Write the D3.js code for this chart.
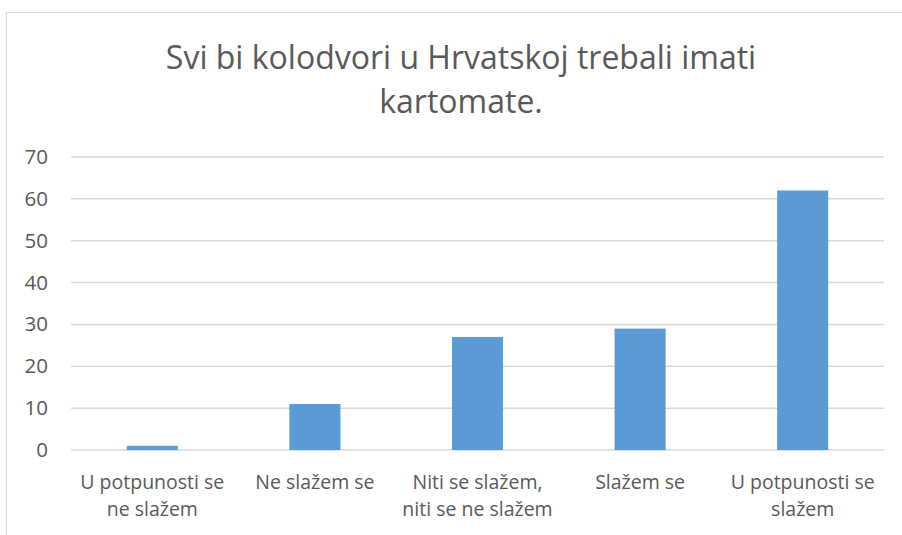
<!DOCTYPE html>
<html>
<head>
<meta charset="utf-8">
<script src="https://cdn.jsdelivr.net/npm/d3@7"></script>
<style>
  body { margin: 0; background: #fff; }
  svg { display: block; }
</style>
</head>
<body>
<svg id="chart" width="902" height="535"></svg>
<script>
// chart data
const title = ['Svi bi kolodvori u Hrvatskoj trebali imati', 'kartomate.'];
const categories = [
  'U potpunosti se\nne slažem',
  'Ne slažem se',
  'Niti se slažem,\nniti se ne slažem',
  'Slažem se',
  'U potpunosti se\nslažem'
];
const values = [1, 11, 27, 29, 62];
const yTicks = [0, 10, 20, 30, 40, 50, 60, 70];

const svg = d3.select('#chart');
const font = '"Open Sans", "DejaVu Sans", sans-serif';

// outer chart border (right/bottom are cut off in the reference)
svg.append('rect')
  .attr('x', 6.5).attr('y', 12.5)
  .attr('width', 1000).attr('height', 1000)
  .attr('fill', '#fff')
  .attr('stroke', '#d9d9d9')
  .attr('stroke-width', 1);

const margin = { top: 157, left: 71, right: 18, bottom: 85 };
const width = 902 - margin.left - margin.right;
const height = 450 - margin.top;

const x = d3.scaleBand()
  .domain(categories)
  .range([0, width])
  .paddingInner(0.686)
  .paddingOuter(0.343);

const y = d3.scaleLinear().domain([0, 70]).range([height, 0]);

const g = svg.append('g').attr('transform', `translate(${margin.left},${margin.top})`);

// gridlines
g.selectAll('line.grid')
  .data(yTicks)
  .enter()
  .append('line')
  .attr('class', 'grid')
  .attr('x1', 0).attr('x2', width)
  .attr('y1', d => y(d)).attr('y2', d => y(d))
  .attr('stroke', '#d9d9d9')
  .attr('stroke-width', 1.5);

// y axis labels
const yAxis = g.append('g')
  .call(d3.axisLeft(y).tickValues(yTicks).tickSize(0).tickPadding(23));
yAxis.select('.domain').remove();
yAxis.selectAll('text')
  .attr('fill', '#595959')
  .style('font-family', font)
  .style('font-size', '20.5px');

// bars
g.selectAll('rect.bar')
  .data(values)
  .enter()
  .append('rect')
  .attr('class', 'bar')
  .attr('x', (d, i) => x(categories[i]))
  .attr('y', d => y(d))
  .attr('width', x.bandwidth())
  .attr('height', d => y(0) - y(d))
  .attr('fill', '#5b9bd5');

// x axis labels (wrapped)
const xAxis = g.append('g')
  .attr('transform', `translate(0,${height})`)
  .call(d3.axisBottom(x).tickSize(0).tickFormat(''));
xAxis.select('.domain').remove();
xAxis.selectAll('.tick').each(function (d) {
  const lines = d.split('\n');
  const t = d3.select(this).append('text')
    .attr('fill', '#595959')
    .attr('text-anchor', 'middle')
    .style('font-family', font)
    .style('font-size', '19.5px');
  lines.forEach((line, i) => {
    t.append('tspan')
      .attr('x', 0)
      .attr('y', 39 + i * 27)
      .text(line);
  });
});

// title
svg.append('text')
  .attr('text-anchor', 'middle')
  .attr('fill', '#595959')
  .style('font-family', font)
  .style('font-size', '32px')
  .selectAll('tspan')
  .data(title)
  .enter()
  .append('tspan')
  .attr('x', 461)
  .attr('y', (d, i) => 69 + i * 44)
  .text(d => d);
</script>
</body>
</html>
